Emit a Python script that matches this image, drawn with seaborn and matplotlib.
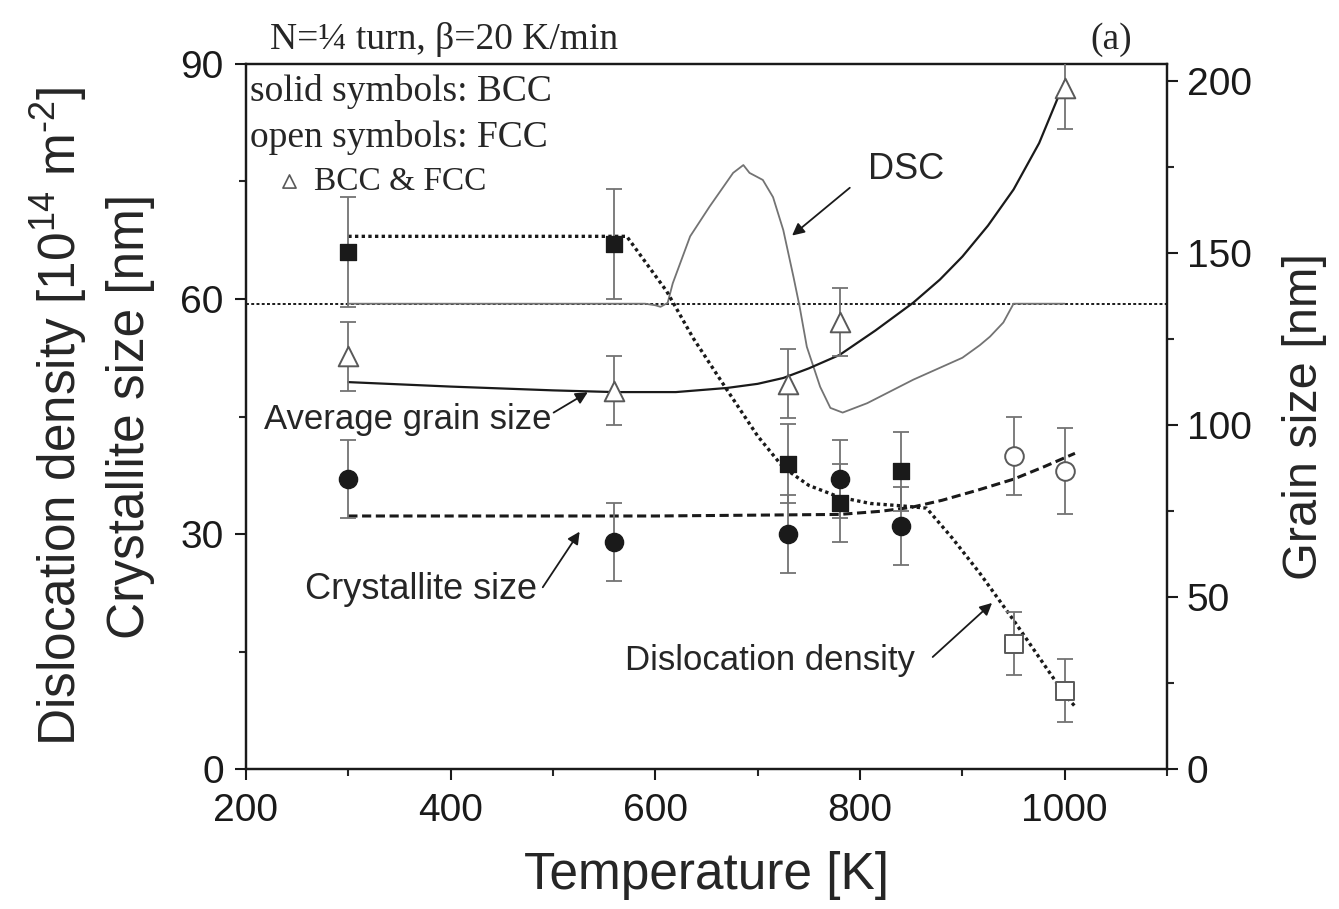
import matplotlib
matplotlib.use("Agg")
import matplotlib.pyplot as plt
import seaborn as sns
import numpy as np
import pandas as pd
from matplotlib.ticker import MultipleLocator

# ---------------- data ----------------
# BCC dislocation density (solid squares), left axis
bcc_disl_T = [300, 560, 730, 780, 840]
bcc_disl_v = [66, 67, 39, 34, 38]
bcc_disl_e = [7, 7, 5, 5, 5]
# BCC crystallite size (solid circles), left axis
bcc_cryst_T = [300, 560, 730, 780, 840]
bcc_cryst_v = [37, 29, 30, 37, 31]
bcc_cryst_e = [5, 5, 5, 5, 5]
# FCC crystallite size (open circles)
fcc_cryst_T = [950, 1000]
fcc_cryst_v = [40, 38]
fcc_cryst_e = [5, 5.5]
# FCC dislocation density (open squares)
fcc_disl_T = [950, 1000]
fcc_disl_v = [16, 10]
fcc_disl_e = [4, 4]
# Grain size BCC & FCC (open triangles), right axis
grain_T = [300, 560, 730, 780, 1000]
grain_v = [120, 110, 112, 130, 198]
grain_e = [10, 10, 10, 10, 12]

# guide lines
disl_line_T = [300, 572, 611, 637, 670, 700, 725, 750, 780, 810, 840, 865, 890, 917, 950, 1000, 1010]
disl_line_v = [68, 68, 61, 55, 48.4, 42.5, 38.5, 36.2, 34.7, 33.9, 33.6, 33.3, 29.5, 25, 19, 9.5, 8]
cryst_line_T = [300, 600, 780, 820, 850, 880, 915, 950, 980, 1010]
cryst_line_v = [32.3, 32.3, 32.5, 32.9, 33.4, 34.3, 35.6, 37, 38.6, 40.3]
grain_line_T = [300, 400, 500, 560, 620, 670, 700, 725, 750, 780, 815, 852, 878, 900,
                925, 950, 975, 1000]
grain_line_v = [112.5, 111.2, 110.1, 109.6, 109.6, 110.8, 112, 113.7, 116.5, 120.4, 127.5,
                135.6, 142.3, 149, 158, 168.5, 182, 200]
dsc_T = [300, 590, 600, 605, 612, 617, 634, 653, 676, 686, 692, 705, 715, 725, 735,
         741, 748, 761, 771, 783, 807, 852, 900, 917, 927, 940, 950, 1000]
dsc_v = [59.4, 59.4, 59.2, 59.0, 59.5, 62, 68, 71.8, 76.1, 77.1, 76.1, 75.2, 73, 68.8, 62.8,
         59, 53.9, 48.8, 46.1, 45.5, 46.7, 49.7, 52.5, 54.1, 55.2, 57, 59.4, 59.4]
dsc_baseline = 59.4

x_ticks = [200, 400, 600, 800, 1000]
left_ticks = [0, 30, 60, 90]
right_ticks = [0, 50, 100, 150, 200]

# ---------------- style ----------------
sns.set_theme(style="ticks")
plt.rcParams['font.family'] = ['Liberation Sans', 'DejaVu Sans']
plt.rcParams['mathtext.fontset'] = 'custom'
plt.rcParams['mathtext.rm'] = 'Liberation Sans'
plt.rcParams['mathtext.it'] = 'Liberation Sans'
SERIF = ['Liberation Serif', 'DejaVu Serif']

fig = plt.figure(figsize=(13.39, 9.09), dpi=100)
ax = fig.add_axes([0.1837, 0.154, 0.6879, 0.7756])
ax2 = ax.twinx()

ebar_col = '0.45'
open_edge = '0.35'

# DSC and baseline
ax.axhline(dsc_baseline, color='k', ls=(0, (1.5, 1.2)), lw=1.4, zorder=2)
sns.lineplot(x=dsc_T, y=dsc_v, ax=ax, color='0.45', lw=1.3, zorder=2)

# guide lines
sns.lineplot(x=disl_line_T, y=disl_line_v, ax=ax, color='k', lw=2.4,
             linestyle=(0, (1, 1)), zorder=3)
sns.lineplot(x=cryst_line_T, y=cryst_line_v, ax=ax, color='k', lw=2.2,
             linestyle=(0, (3, 1.5)), zorder=3)
sns.lineplot(x=grain_line_T, y=grain_line_v, ax=ax2, color='k', lw=1.6, zorder=3)

# error bars
ekw = dict(fmt='none', ecolor=ebar_col, elinewidth=1.3, capsize=5.5, capthick=1.3, zorder=4)
ax.errorbar(bcc_disl_T, bcc_disl_v, yerr=bcc_disl_e, **ekw)
ax.errorbar(bcc_cryst_T, bcc_cryst_v, yerr=bcc_cryst_e, **ekw)
ax.errorbar(fcc_cryst_T, fcc_cryst_v, yerr=fcc_cryst_e, **ekw)
ax.errorbar(fcc_disl_T, fcc_disl_v, yerr=fcc_disl_e, **ekw)
ax2.errorbar(grain_T, grain_v, yerr=grain_e, **ekw)

# markers
sns.scatterplot(x=bcc_disl_T, y=bcc_disl_v, ax=ax, marker='s', s=140, color='k',
                edgecolor='k', zorder=5)
sns.scatterplot(x=bcc_cryst_T, y=bcc_cryst_v, ax=ax, marker='o', s=170, color='k',
                edgecolor='k', zorder=5)
sns.scatterplot(x=fcc_cryst_T, y=fcc_cryst_v, ax=ax, marker='o', s=180, color='white',
                edgecolor=open_edge, linewidth=1.4, zorder=5)
sns.scatterplot(x=fcc_disl_T, y=fcc_disl_v, ax=ax, marker='s', s=150, color='white',
                edgecolor=open_edge, linewidth=1.4, zorder=5)
sns.scatterplot(x=grain_T, y=grain_v, ax=ax2, marker='^', s=200, color='white',
                edgecolor=open_edge, linewidth=1.4, zorder=5)

# axes limits & ticks
ax.set_xlim(200, 1100)
ax.set_ylim(0, 90)
ax2.set_ylim(0, 205)
ax.set_xticks(x_ticks)
ax.set_yticks(left_ticks)
ax2.set_yticks(right_ticks)
ax.xaxis.set_minor_locator(MultipleLocator(100))
ax.yaxis.set_minor_locator(MultipleLocator(15))
ax2.yaxis.set_minor_locator(MultipleLocator(25))
for a in (ax, ax2):
    a.tick_params(which='major', direction='out', length=8, width=1.5, labelsize=28,
                  colors='k')
    a.tick_params(which='minor', direction='out', length=5, width=1.5)
    for sp in a.spines.values():
        sp.set_linewidth(1.6)
        sp.set_color('k')
        sp.set_visible(True)
ax.tick_params(axis='y', right=False, which='both', pad=8)
ax.tick_params(axis='x', top=False, which='both', pad=9)
ax2.tick_params(axis='y', pad=6)
ax2.tick_params(axis='x', top=False, bottom=False, which='both')

ax.set_xlabel('Temperature [K]', fontsize=37, labelpad=16)
ax.set_ylabel('Dislocation density [10$^{14}$ m$^{\\text{-2}}$]\nCrystallite size [nm]',
              fontsize=37, labelpad=18, linespacing=1.45)
ax2.set_ylabel('Grain size [nm]', fontsize=35, labelpad=22)

# texts
fig.text(0.2016, 0.956, 'N=¼ turn, β=20 K/min', family=SERIF, fontsize=27,
         ha='left', va='center')
fig.text(0.830, 0.956, '(a)', family=SERIF, fontsize=27, ha='center', va='center')
ax.text(204, 86.5, 'solid symbols: BCC', family=SERIF, fontsize=27, ha='left', va='center')
ax.text(204, 80.6, 'open symbols: FCC', family=SERIF, fontsize=27, ha='left', va='center')
ax.text(266, 75, 'BCC & FCC', family=SERIF, fontsize=24, ha='left', va='center')
ax.scatter([242], [75], marker='^', s=90, facecolor='white', edgecolor=open_edge,
           linewidth=1.2, zorder=6)

akw = dict(arrowstyle='-|>', color='k', lw=1.3, mutation_scale=18, shrinkA=0, shrinkB=0)
ax.text(845, 76.5, 'DSC', fontsize=26, ha='center', va='center')
ax.annotate('', xy=(733.6, 68.1), xytext=(790, 74.2), arrowprops=akw)
ax.text(358, 44.6, 'Average grain size', fontsize=25, ha='center', va='center')
ax.annotate('', xy=(534, 48.1), xytext=(500.6, 45.5), arrowprops=akw)
ax.text(371, 22.9, 'Crystallite size', fontsize=26, ha='center', va='center')
ax.annotate('', xy=(526, 30.3), xytext=(490, 23.2), arrowprops=akw)
ax.text(712, 13.9, 'Dislocation density', fontsize=25, ha='center', va='center')
ax.annotate('', xy=(929, 21.2), xytext=(871, 14.3), arrowprops=akw)

fig.savefig('out.png', dpi=100)
